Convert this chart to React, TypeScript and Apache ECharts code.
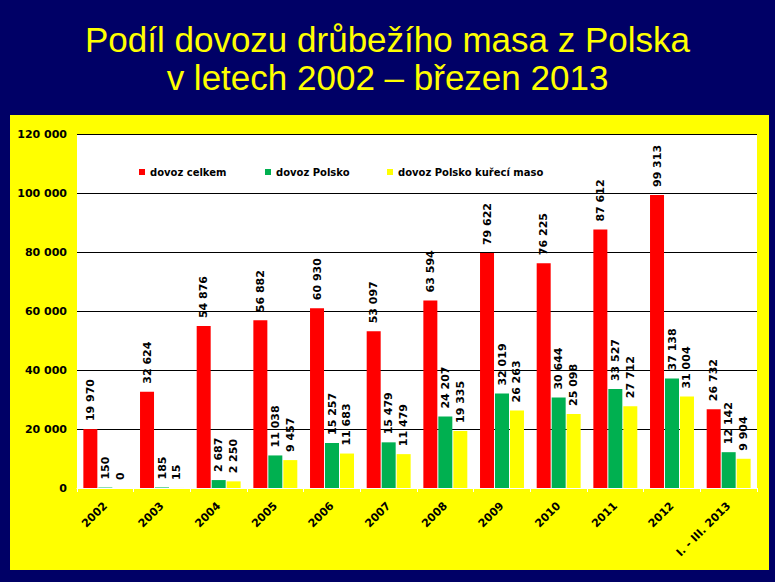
import React, { useEffect, useRef } from "react";
import * as echarts from "echarts";

const categories = ["2002", "2003", "2004", "2005", "2006", "2007", "2008", "2009", "2010", "2011", "2012", "I. - III. 2013"];
const dovozCelkem = [19970, 32624, 54876, 56882, 60930, 53097, 63594, 79622, 76225, 87612, 99313, 26732];
const dovozPolsko = [150, 185, 2687, 11038, 15257, 15479, 24207, 32019, 30644, 33527, 37138, 12142];
const dovozKureci = [0, 15, 2250, 9457, 11683, 11479, 19335, 26263, 25098, 27712, 31004, 9904];
const seriesNames = ["dovoz celkem", "dovoz Polsko", "dovoz Polsko kuřecí maso"];
const titleLines = ["Podíl dovozu drůbežího masa z Polska", "v letech 2002 – březen 2013"];

const fmt = (v: number) => String(v).replace(/\B(?=(\d{3})+(?!\d))/g, " ");

export default function App() {
  const ref = useRef<HTMLDivElement>(null);
  useEffect(() => {
    if (!ref.current) return;
    const chart = echarts.init(ref.current, null, { renderer: "svg" });
    const labelCfg = {
      show: true,
      position: "top",
      rotate: 90,
      align: "left",
      verticalAlign: "middle",
      distance: 8,
      color: "#000",
      fontFamily: "DejaVu Sans",
      fontWeight: "bold",
      fontSize: 11,
      formatter: (p: any) => fmt(p.value),
    };
    const legendBase = {
      orient: "horizontal",
      top: 167,
      padding: 0,
      itemWidth: 6,
      itemHeight: 6,
      icon: "rect",
      textStyle: { fontFamily: "DejaVu Sans", fontWeight: "bold", fontSize: 10, color: "#000" },
    };
    const titleStyle = {
      color: "#FFFF00",
      fontFamily: "Liberation Sans",
      fontWeight: "normal",
      fontSize: 35,
    };
    chart.setOption({
      animation: false,
      backgroundColor: "#000066",
      title: [
        { text: titleLines[0], left: "center", top: 17, textStyle: titleStyle },
        { text: titleLines[1], left: "center", top: 55, textStyle: titleStyle },
      ],
      graphic: {
        elements: [
          {
            type: "rect",
            z: -100,
            silent: true,
            shape: { x: 10, y: 115, width: 759, height: 455 },
            style: { fill: "#FFFF00" },
          },
        ],
      },
      legend: [
        { ...legendBase, left: 139, data: [seriesNames[0]] },
        { ...legendBase, left: 265, data: [seriesNames[1]] },
        { ...legendBase, left: 387, data: [seriesNames[2]] },
      ],
      grid: {
        left: 77,
        right: 18,
        top: 134,
        bottom: 94,
        show: true,
        backgroundColor: "#FFFFFF",
        borderWidth: 0,
      },
      xAxis: {
        type: "category",
        data: categories,
        axisLine: { show: true, lineStyle: { color: "#FFFFFF", width: 1 } },
        axisTick: { show: true, length: 4, lineStyle: { color: "#FFFFFF" } },
        axisLabel: {
          interval: 0,
          rotate: 45,
          margin: 16,
          color: "#000",
          fontFamily: "DejaVu Sans",
          fontWeight: "bold",
          fontSize: 11,
        },
      },
      yAxis: {
        type: "value",
        min: 0,
        max: 120000,
        interval: 20000,
        axisLine: { show: false },
        axisTick: { show: false },
        splitLine: { show: true, lineStyle: { color: "#000", width: 1 } },
        axisLabel: {
          margin: 10,
          color: "#000",
          fontFamily: "DejaVu Sans",
          fontWeight: "bold",
          fontSize: 11,
          formatter: (v: number) => fmt(v),
        },
      },
      series: [
        { name: seriesNames[0], type: "bar", data: dovozCelkem, barWidth: 14, barGap: "7%", itemStyle: { color: "#FF0000" }, label: labelCfg },
        { name: seriesNames[1], type: "bar", data: dovozPolsko, barWidth: 14, barGap: "7%", itemStyle: { color: "#00B050" }, label: labelCfg },
        { name: seriesNames[2], type: "bar", data: dovozKureci, barWidth: 14, barGap: "7%", itemStyle: { color: "#FFFF00" }, label: labelCfg },
      ],
    });
    return () => chart.dispose();
  }, []);
  return <div ref={ref} style={{ position: "fixed", left: 0, top: 0, width: 775, height: 582 }} />;
}
